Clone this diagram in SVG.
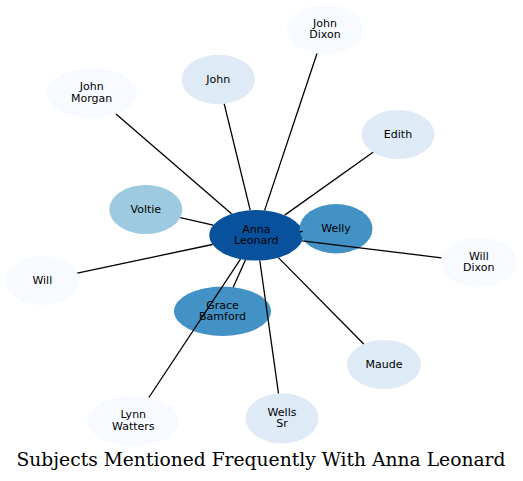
<svg xmlns="http://www.w3.org/2000/svg" width="523" height="481" viewBox="0 0 523 481">
<style>
.n text{font-family:"DejaVu Sans",Verdana,sans-serif;font-size:11px;fill:#000;text-anchor:middle}
.c0{fill:#08519c}.c1{fill:#4292c6}.c2{fill:#9ecae1}.c3{fill:#deebf7}.c4{fill:#f7fbff}
#edges line{stroke:#000;stroke-width:1.3;fill:none}
.title{font-family:"DejaVu Serif",serif;font-size:18.7px;text-anchor:middle;fill:#000}
</style>
<rect width="523" height="481" fill="#fff"/>
<g id="nodes">
<g id="anna" class="n"><ellipse class="c0" cx="256.3" cy="235.3" rx="47" ry="25.3"/><text x="256.3" y="232.5">Anna</text><text x="256.3" y="244.2">Leonard</text></g>
<g id="welly" class="n"><ellipse class="c1" cx="336" cy="228.7" rx="36.5" ry="24.7"/><text x="336" y="232.4">Welly</text></g>
<g id="voltie" class="n"><ellipse class="c2" cx="145.8" cy="209.5" rx="36.5" ry="24.5"/><text x="145.8" y="213.2">Voltie</text></g>
<g id="grace" class="n"><ellipse class="c1" cx="222.5" cy="311.3" rx="48.5" ry="24.7"/><text x="222.5" y="308.5">Grace</text><text x="222.5" y="320.2">Bamford</text></g>
<g id="johnmorgan" class="n"><ellipse class="c4" cx="91.7" cy="93" rx="45" ry="25"/><text x="91.7" y="90.2">John</text><text x="91.7" y="101.9">Morgan</text></g>
<g id="john" class="n"><ellipse class="c3" cx="218.3" cy="79.5" rx="36.7" ry="24.7"/><text x="218.3" y="83.2">John</text></g>
<g id="johndixon" class="n"><ellipse class="c4" cx="325" cy="29.5" rx="38" ry="24.5"/><text x="325" y="26.7">John</text><text x="325" y="38.4">Dixon</text></g>
<g id="edith" class="n"><ellipse class="c3" cx="398" cy="134.5" rx="36.5" ry="24.5"/><text x="398" y="138.2">Edith</text></g>
<g id="will" class="n"><ellipse class="c4" cx="42.3" cy="280.5" rx="36.7" ry="24.5"/><text x="42.3" y="284.2">Will</text></g>
<g id="willdixon" class="n"><ellipse class="c4" cx="478.8" cy="262.3" rx="38" ry="25"/><text x="478.8" y="259.5">Will</text><text x="478.8" y="271.2">Dixon</text></g>
<g id="maude" class="n"><ellipse class="c3" cx="384" cy="364.5" rx="37" ry="24.5"/><text x="384" y="368.2">Maude</text></g>
<g id="wellssr" class="n"><ellipse class="c3" cx="282" cy="418.3" rx="36.5" ry="25"/><text x="282" y="415.5">Wells</text><text x="282" y="427.2">Sr</text></g>
<g id="lynn" class="n"><ellipse class="c4" cx="133.3" cy="421" rx="45.7" ry="25"/><text x="133.3" y="418.2">Lynn</text><text x="133.3" y="429.9">Watters</text></g>
</g>
<g id="edges">
<line x1="231.5" y1="213.8" x2="116" y2="114"/>
<line x1="250.2" y1="210.2" x2="224.2" y2="103.9"/>
<line x1="264.6" y1="210.4" x2="317" y2="53.5"/>
<line x1="284.7" y1="215.1" x2="373" y2="152.3"/>
<line x1="302.7" y1="231.3" x2="299.8" y2="231.8"/>
<line x1="302.2" y1="240.9" x2="441.4" y2="257.8"/>
<line x1="278.4" y1="257.6" x2="363.7" y2="344"/>
<line x1="259.8" y1="260.5" x2="278.5" y2="393.4"/>
<line x1="240.5" y1="259.1" x2="148.9" y2="397.5"/>
<line x1="245.4" y1="259.9" x2="233.2" y2="287.2"/>
<line x1="212.5" y1="244.5" x2="77.3" y2="273.1"/>
<line x1="213.2" y1="225.2" x2="180.3" y2="217.6"/>
</g>
<text class="title" x="261" y="465.5">Subjects Mentioned Frequently With Anna Leonard</text>
</svg>
